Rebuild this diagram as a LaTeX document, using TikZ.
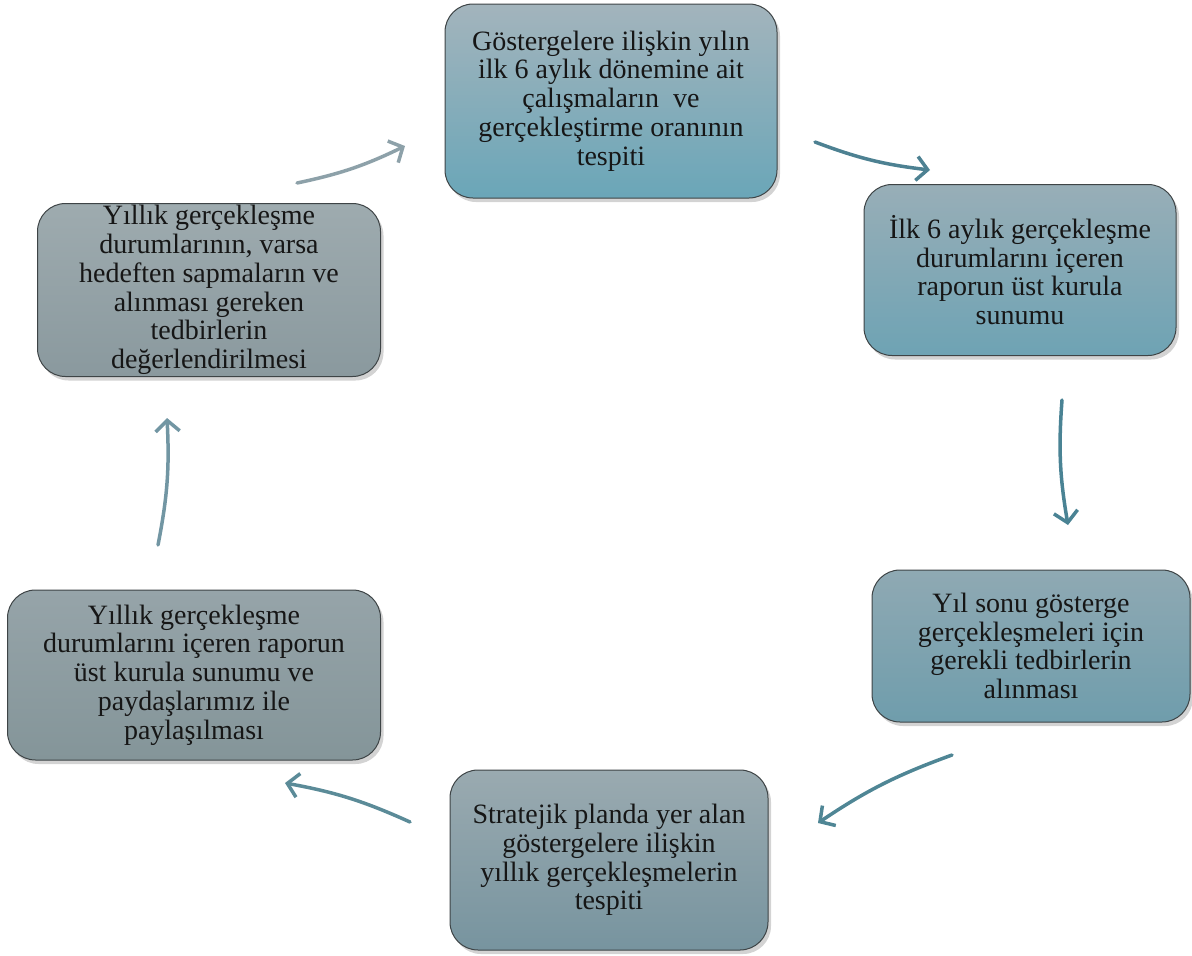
\documentclass[tikz,border=0pt]{standalone}
\usepackage{fontspec}
\setmainfont{Liberation Serif}
\usetikzlibrary{arrows.meta,shadows}
\definecolor{boxline}{HTML}{3E4446}
\definecolor{txt}{HTML}{161616}
\definecolor{ttop}{HTML}{A3B4BC}
\definecolor{tbot}{HTML}{6AA6B8}
\definecolor{rttop}{HTML}{98AEB7}
\definecolor{rtbot}{HTML}{6EA3B4}
\definecolor{rbtop}{HTML}{8FA9B3}
\definecolor{rbbot}{HTML}{6F9DAC}
\definecolor{btop}{HTML}{9AAAB0}
\definecolor{bbot}{HTML}{77949F}
\definecolor{lbtop}{HTML}{96A4A9}
\definecolor{lbbot}{HTML}{849599}
\definecolor{lttop}{HTML}{9EABAF}
\definecolor{ltbot}{HTML}{8A999E}
\begin{document}
\begin{tikzpicture}[x=1pt,y=-1pt,
    box/.style={draw=boxline,line width=1pt,rounded corners=28pt,align=center,
      text=txt,font=\fontsize{28}{28.8}\selectfont,inner sep=0pt,
      drop shadow={shadow xshift=3pt,shadow yshift=-4pt,opacity=0.35}},
    arr/.style={line width=3.5pt,line cap=round,-{Straight Barb[length=11pt,width=24pt,line width=3.5pt]}}]
\useasboundingbox (0,0) rectangle (1192,956);
% steps of the cycle
\node[box,top color=ttop,bottom color=tbot,minimum width=332,minimum height=194] (top) at (611,101)
  {Göstergelere ilişkin yılın\\ilk 6 aylık dönemine ait\\çalışmaların\ \ ve\\gerçekleştirme oranının\\tespiti};
\node[box,top color=rttop,bottom color=rtbot,minimum width=312,minimum height=171] (rtop) at (1020,270)
  {İlk 6 aylık gerçekleşme\\durumlarını içeren\\raporun üst kurula\\sunumu};
\node[box,top color=rbtop,bottom color=rbbot,minimum width=318,minimum height=152] (rbot) at (1031,646)
  {Yıl sonu gösterge\\gerçekleşmeleri için\\gerekli tedbirlerin\\alınması};
\node[box,top color=btop,bottom color=bbot,minimum width=318,minimum height=180] (bot) at (609,860)
  {Stratejik planda yer alan\\göstergelere ilişkin\\yıllık gerçekleşmelerin\\tespiti};
\node[box,top color=lbtop,bottom color=lbbot,minimum width=373,minimum height=170] (lbot) at (194,675)
  {Yıllık gerçekleşme\\durumlarını içeren raporun\\üst kurula sunumu ve\\paydaşlarımız ile\\paylaşılması};
\node[box,top color=lttop,bottom color=ltbot,minimum width=343,minimum height=173] (ltop) at (209,290)
  {Yıllık gerçekleşme\\durumlarının, varsa\\hedeften sapmaların ve\\alınması gereken\\tedbirlerin\\değerlendirilmesi};
% arrow ends
\coordinate (s1) at (297,183); \coordinate (e1) at (405,146);
\coordinate (s2) at (815,142); \coordinate (e2) at (930,170);
\coordinate (s3) at (1062,400); \coordinate (e3) at (1068,525);
\coordinate (s4) at (952,755); \coordinate (e4) at (818,823);
\coordinate (s5) at (410,822); \coordinate (e5) at (285,783);
\coordinate (s6) at (158,545); \coordinate (e6) at (167,418);
\draw[arr,color={rgb,255:red,141;green,161;blue,169}] (s1) to[bend right=7] (e1);
\draw[arr,color={rgb,255:red,77;green,129;blue,146}] (s2) to[bend right=7] (e2);
\draw[arr,color={rgb,255:red,74;green,131;blue,148}] (s3) to[bend right=7] (e3);
\draw[arr,color={rgb,255:red,79;green,134;blue,149}] (s4) to[bend right=7] (e4);
\draw[arr,color={rgb,255:red,91;green,139;blue,152}] (s5) to[bend right=7] (e5);
\draw[arr,color={rgb,255:red,114;green,150;blue,163}] (s6) to[bend right=7] (e6);
\end{tikzpicture}
\end{document}
